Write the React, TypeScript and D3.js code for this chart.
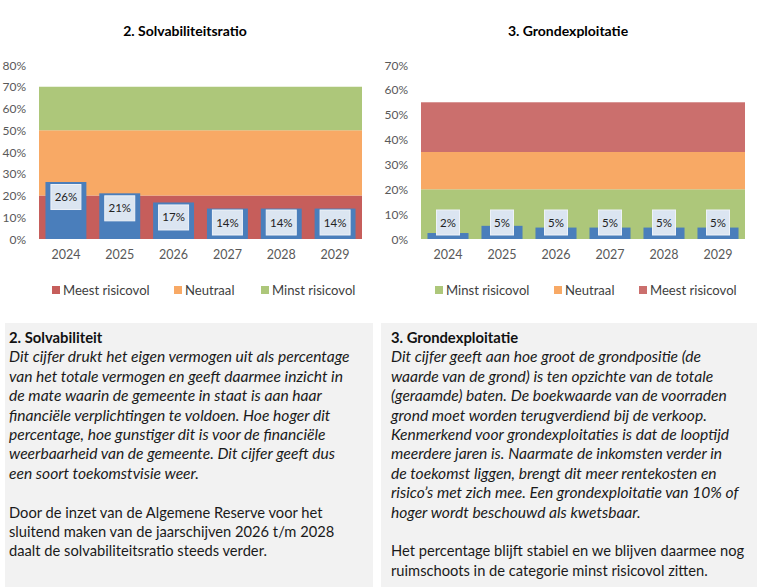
import React from "react";
import * as d3 from "d3";

const years = ["2024", "2025", "2026", "2027", "2028", "2029"];
const solvValues = [26.2, 21.0, 16.8, 14.0, 14.0, 14.0];
const grondValues = [2.4, 5.3, 4.6, 4.6, 4.6, 4.6];

const solvTicks = [0, 10, 20, 30, 40, 50, 60, 70, 80];
const grondTicks = [0, 10, 20, 30, 40, 50, 60, 70];

const solvBands = [
  { from: 0, to: 20, name: "Meest risicovol" },
  { from: 20, to: 50, name: "Neutraal" },
  { from: 50, to: 70, name: "Minst risicovol" },
];
const grondBands = [
  { from: 0, to: 20, name: "Minst risicovol" },
  { from: 20, to: 35, name: "Neutraal" },
  { from: 35, to: 55, name: "Meest risicovol" },
];

const solvTitle = "2. Solvabiliteitsratio";
const grondTitle = "3. Grondexploitatie";

const solvTextTitle = "2. Solvabiliteit";
const solvItalic = [
  "Dit cijfer drukt het eigen vermogen uit als percentage",
  "van het totale vermogen en geeft daarmee inzicht in",
  "de mate waarin de gemeente in staat is aan haar",
  "financiële verplichtingen te voldoen. Hoe hoger dit",
  "percentage, hoe gunstiger dit is voor de financiële",
  "weerbaarheid van de gemeente. Dit cijfer geeft dus",
  "een soort toekomstvisie weer.",
];
const solvPlain = [
  "Door de inzet van de Algemene Reserve voor het",
  "sluitend maken van de jaarschijven 2026 t/m 2028",
  "daalt de solvabiliteitsratio  steeds verder.",
];

const grondTextTitle = "3. Grondexploitatie";
const grondItalic = [
  "Dit cijfer geeft aan hoe groot de grondpositie (de",
  "waarde van de grond) is ten opzichte van de totale",
  "(geraamde) baten. De boekwaarde van de voorraden",
  "grond moet worden terugverdiend bij de verkoop.",
  "Kenmerkend voor grondexploitaties is dat de looptijd",
  "meerdere jaren is. Naarmate de inkomsten verder in",
  "de toekomst liggen, brengt dit meer rentekosten en",
  "risico’s met zich mee. Een grondexploitatie van 10% of",
  "hoger wordt beschouwd als kwetsbaar.",
];
const grondPlain = [
  "Het percentage blijft stabiel en we blijven daarmee nog",
  "ruimschoots in de categorie minst risicovol zitten.",
];

const bandColor: Record<string, string> = {
  "Meest risicovol": "#c65e5b",
  Neutraal: "#f8a965",
  "Minst risicovol": "#adc77a",
};
const bandColorRight: Record<string, string> = {
  "Meest risicovol": "#cb6f6d",
  Neutraal: "#f8a965",
  "Minst risicovol": "#adc77a",
};

const FONT = "Lato, 'Open Sans', sans-serif";
const GRAY = "#595959";

type Band = { from: number; to: number; name: string };

function Chart(props: {
  x0: number;
  x1: number;
  tickX: number;
  domainMax: number;
  ticks: number[];
  values: number[];
  bands: Band[];
  colors: Record<string, string>;
  title: string;
  titleX: number;
  legendX: number[];
}) {
  const { x0, x1, tickX, domainMax, ticks, values, bands, colors, title, titleX, legendX } = props;
  const y = d3.scaleLinear().domain([0, domainMax]).range([239, 65]);
  const x = d3.scaleBand<string>().domain(years).range([x0, x1]).paddingInner(0.24).paddingOuter(0.12);
  const fmt = (v: number) => `${Math.round(v)}%`;
  const boxH = 25;
  return (
    <g>
      <text x={titleX} y={36} textAnchor="middle" fontFamily={FONT} fontWeight="bold" fontSize={14} fill="#000">
        {title}
      </text>
      {ticks.map((t) => (
        <text key={t} x={tickX} y={y(t) + 4.5} textAnchor="end" fontFamily={FONT} fontSize={12} fill={GRAY}>
          {t}%
        </text>
      ))}
      {bands.map((b) => (
        <rect key={b.name} x={x0} y={y(b.to)} width={x1 - x0} height={y(b.from) - y(b.to)} fill={colors[b.name]} />
      ))}
      {values.map((v, i) => (
        <rect key={years[i]} x={x(years[i])!} y={y(v)} width={x.bandwidth()} height={y(0) - y(v)} fill="#4a7ebb" />
      ))}
      {values.map((v, i) => {
        const label = fmt(v);
        const w = label.length * 7 + 9;
        const cy = Math.min(y(v) + 2.5 + boxH / 2, y(0) - 16.5);
        const cx = x(years[i])! + x.bandwidth() / 2;
        return (
          <g key={"l" + years[i]}>
            <rect x={cx - w / 2} y={cy - boxH / 2} width={w} height={boxH} fill="#dbe5f1" stroke="#eef2f8" strokeWidth={1} />
            <text x={cx} y={cy + 4} textAnchor="middle" fontFamily={FONT} fontSize={11.5} fill="#222">
              {label}
            </text>
          </g>
        );
      })}
      {years.map((yr) => (
        <text key={yr} x={x(yr)! + x.bandwidth() / 2} y={259} textAnchor="middle" fontFamily={FONT} fontSize={12.5} fill={GRAY}>
          {yr}
        </text>
      ))}
      {bands.map((b, i) => (
        <g key={"leg" + b.name}>
          <rect x={legendX[i]} y={286} width={8} height={8} fill={colors[b.name]} />
          <text x={legendX[i] + 11} y={294.5} fontFamily={FONT} fontSize={13.1} fill="#404040">
            {b.name}
          </text>
        </g>
      ))}
    </g>
  );
}

function Panel(props: { x: number; w: number; title: string; italic: string[]; plain: string[]; tx: number }) {
  const { x, w, title, italic, plain, tx } = props;
  const lh = 19.4;
  const base = 343;
  return (
    <g>
      <rect x={x} y={323} width={w} height={264} fill="#f2f2f2" />
      <text x={tx} y={base} fontFamily={FONT} fontWeight="bold" fontSize={14.8} fill="#111">
        {title}
      </text>
      {italic.map((l, i) => (
        <text key={"i" + i} x={tx} y={base + lh * (i + 1)} fontFamily={FONT} fontStyle="italic" fontSize={15.6} fill="#1a1a1a">
          {l}
        </text>
      ))}
      {plain.map((l, i) => (
        <text key={"p" + i} x={tx} y={base + lh * (italic.length + 2 + i)} fontFamily={FONT} fontSize={14.7} fill="#1a1a1a">
          {l}
        </text>
      ))}
    </g>
  );
}

export default function App() {
  return (
    <svg width={757} height={587} style={{ position: "absolute", left: 0, top: 0, background: "#fff" }}>
      <rect x={0} y={0} width={757} height={587} fill="#fff" />
      <Chart
        x0={39}
        x1={362}
        tickX={26}
        domainMax={80}
        ticks={solvTicks}
        values={solvValues}
        bands={solvBands}
        colors={bandColor}
        title={solvTitle}
        titleX={185}
        legendX={[52, 174, 261]}
      />
      <Chart
        x0={421}
        x1={745}
        tickX={408}
        domainMax={70}
        ticks={grondTicks}
        values={grondValues}
        bands={grondBands}
        colors={bandColorRight}
        title={grondTitle}
        titleX={568}
        legendX={[435, 554, 639]}
      />
      <Panel x={5} w={368} title={solvTextTitle} italic={solvItalic} plain={solvPlain} tx={9} />
      <Panel x={381} w={376} title={grondTextTitle} italic={grondItalic} plain={grondPlain} tx={391} />
    </svg>
  );
}
